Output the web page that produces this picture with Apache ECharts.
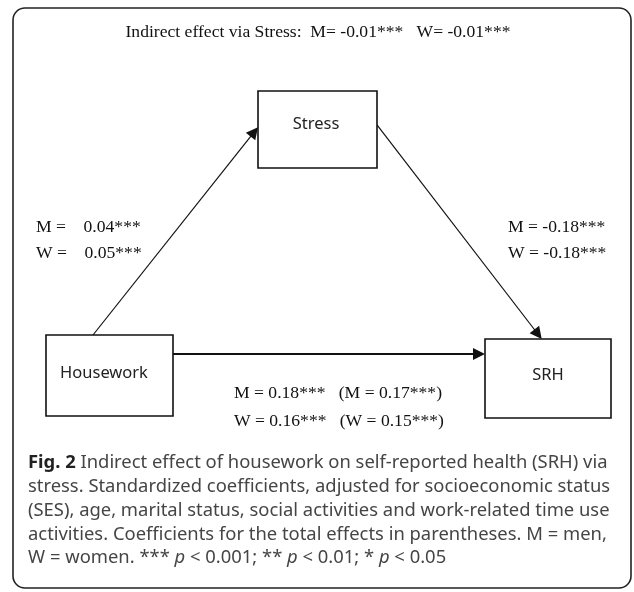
<!DOCTYPE html>
<html>
<head>
<meta charset="utf-8">
<script src="https://cdn.jsdelivr.net/npm/echarts@6/dist/echarts.min.js"></script>
<style>
html, body {margin: 0; padding: 0; background: #fff}
#chart {width: 634px; height: 592px}
</style>
</head>
<body>
<div id="chart"></div>
<script>
// diagram content
const nodeNames = ['Stress', 'Housework', 'SRH']
const edgeFrom = ['Housework', 'Stress', 'Housework']
const edgeTo = ['Stress', 'SRH', 'SRH']
const edgeLabels = [
    ['M =    0.04***', 'W =    0.05***'],
    ['M = -0.18***', 'W = -0.18***'],
    ['M = 0.18***   (M = 0.17***)', 'W = 0.16***   (W = 0.15***)']
]
const indirectLabel = 'Indirect effect via Stress:  M= -0.01***   W= -0.01***'
const captionLines = [
    '{b|Fig. 2} Indirect effect of housework on self-reported health (SRH) via',
    'stress. Standardized coefficients, adjusted for socioeconomic status',
    '(SES), age, marital status, social activities and work-related time use',
    'activities. Coefficients for the total effects in parentheses. M = men,',
    'W = women. *** {i|p} < 0.001; ** {i|p} < 0.01; * {i|p} < 0.05'
]

// layout (pixels)
const boxes = {
    Stress: {x: 258, y: 91, w: 119, h: 77, tx: 316, ty: 124},
    Housework: {x: 46, y: 335, w: 127, h: 81, tx: 104, ty: 373},
    SRH: {x: 485, y: 339, w: 126, h: 79, tx: 548, ty: 375}
}
const anchors = [
    {from: [0.37, 0], to: [0, 0.47], width: 1.2},
    {from: [1, 0.44], to: [0.45, 0], width: 1.2},
    {from: [1, 0.235], to: [0, 0.19], width: 2}
]
const labelPos = [[36, 227, 253], [508, 227, 253], [234, 393, 421]]
const arrowSize = [8, 12]

const serif = '"Liberation Serif", "DejaVu Serif", serif'
const sans = '"Noto Sans", "Open Sans", sans-serif'
const serifSize = 17.6
const captionSize = 18.4

let chart = echarts.init(document.querySelector('#chart'))

function anchorPoint(name, f) {
    const b = boxes[name]
    return [b.x + f[0] * b.w, b.y + f[1] * b.h]
}

let lineData = edgeFrom.map((from, i) => {
    const p0 = anchorPoint(from, anchors[i].from)
    const p1 = anchorPoint(edgeTo[i], anchors[i].to)
    const dx = p1[0] - p0[0], dy = p1[1] - p0[1]
    const len = Math.sqrt(dx * dx + dy * dy)
    // arrow symbol is centred on the end point, pull it back so the tip touches the box
    const back = arrowSize[1] / 2
    return {
        coords: [p0, [p1[0] - dx / len * back, p1[1] - dy / len * back]],
        lineStyle: {width: anchors[i].width}
    }
})

let labelGraphics = []
edgeLabels.forEach((pair, i) => {
    pair.forEach((txt, j) => {
        labelGraphics.push({
            type: 'text',
            x: labelPos[i][0],
            y: labelPos[i][j + 1],
            style: {text: txt, font: serifSize + 'px ' + serif, fill: '#111', verticalAlign: 'middle'}
        })
    })
})

let captionGraphics = captionLines.map((txt, i) => ({
    type: 'text',
    x: 28,
    y: 463 + i * 23.8,
    style: {
        text: txt,
        fontFamily: sans,
        fontSize: captionSize,
        fill: '#454545',
        verticalAlign: 'middle',
        rich: {
            b: {fontFamily: sans, fontSize: captionSize, fontWeight: 'bold', fill: '#222'},
            i: {fontFamily: sans, fontSize: captionSize, fontStyle: 'italic', fill: '#454545'}
        }
    }
}))

chart.setOption({
    animation: false,
    grid: {left: 0, right: 0, top: 0, bottom: 0},
    xAxis: {type: 'value', min: 0, max: 634, show: false},
    yAxis: {type: 'value', min: 0, max: 592, inverse: true, show: false},
    graphic: [
        {
            type: 'rect',
            shape: {x: 13, y: 8, width: 618, height: 580, r: 12},
            style: {fill: 'none', stroke: '#222', lineWidth: 1.6}
        },
        {
            type: 'text',
            x: 318,
            y: 32,
            style: {text: indirectLabel, font: serifSize + 'px ' + serif, fill: '#111', align: 'center', verticalAlign: 'middle'}
        },
        ...labelGraphics,
        ...captionGraphics
    ],
    series: [
        {
            type: 'lines',
            coordinateSystem: 'cartesian2d',
            symbol: ['none', 'triangle'],
            symbolSize: arrowSize,
            lineStyle: {color: '#111', opacity: 1, curveness: 0},
            itemStyle: {color: '#111'},
            data: lineData,
            z: 1
        },
        {
            type: 'custom',
            z: 2,
            data: nodeNames.map(n => [boxes[n].x, boxes[n].y]),
            renderItem: function (params, api) {
                const name = nodeNames[params.dataIndex]
                const b = boxes[name]
                const p0 = api.coord([b.x, b.y])
                const p1 = api.coord([b.x + b.w, b.y + b.h])
                const t = api.coord([b.tx, b.ty])
                return {
                    type: 'group',
                    children: [
                        {
                            type: 'rect',
                            shape: {x: p0[0], y: p0[1], width: p1[0] - p0[0], height: p1[1] - p0[1]},
                            style: {fill: '#fff', stroke: '#111', lineWidth: 1.6}
                        },
                        {
                            type: 'text',
                            x: t[0],
                            y: t[1],
                            style: {text: name, font: '16.5px ' + sans, fill: '#222', align: 'center', verticalAlign: 'middle'}
                        }
                    ]
                }
            }
        }
    ]
})
</script>
</body>
</html>
